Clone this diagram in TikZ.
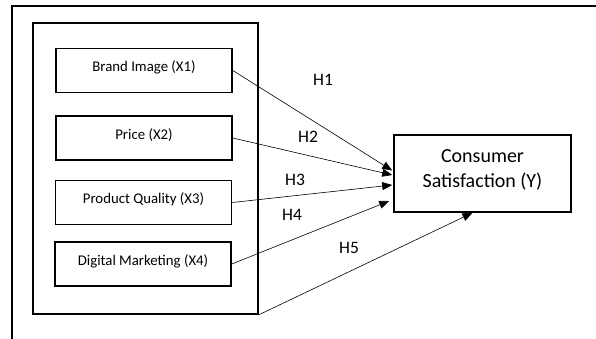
\documentclass[tikz,border=0pt]{standalone}
\usepackage{fontspec}
\setmainfont{Carlito}
\usepackage{tikz}
\usetikzlibrary{arrows.meta}
\usetikzlibrary{calc}
\tikzstyle{var_box}=[draw=black, line width=1.6pt, minimum width=176pt, minimum height=44pt, inner sep=0pt, text height=8pt, text depth=6pt, font=\fontsize{14.8}{16}\selectfont]
\tikzstyle{dep_box}=[draw=black, line width=1.6pt, minimum width=177pt, minimum height=77pt, inner sep=0pt, align=center, text depth=10pt, font=\fontsize{20}{25}\selectfont]
\tikzstyle{hyp}=[-{Triangle[length=10pt,width=8pt]}, line width=0.6pt]
\tikzstyle{hyp_label}=[inner sep=0pt, font=\fontsize{17.5}{18}\selectfont]

\begin{document}
\begin{tikzpicture}[x=1pt, y=-1pt]
          \useasboundingbox (0,0) rectangle (596,338);
          \draw[line width=2pt] (598,5.5) -- (11.5,5.5) -- (11.5,340);
          \node[draw=black, line width=1.6pt, minimum width=225pt, minimum height=291pt, inner sep=0pt] (grp) at (145.5,168.5){};
          \node[var_box] (x1) at (144,70.5){Brand Image (X1)};
          \node[var_box] (x2) at (144,138){Price (X2)};
          \node[var_box] (x3) at (143.5,202.5){Product Quality (X3)};
          \node[var_box] (x4) at (143,264){Digital Marketing (X4)};
          \node[dep_box] (y) at (482.5,173.5){Consumer\\Satisfaction (Y)};
          \draw[hyp](x1.east) -- ($(y.west)+(-1,-3)$);
          \draw[hyp](x2.east) -- ($(y.west)+(-1,1.5)$);
          \draw[hyp](x3.east) -- ($(y.west)+(-1,11.5)$);
          \draw[hyp](x4.east) -- ($(y.west)+(-4,27.5)$);
          \draw[hyp](grp.south east) -- ($(y.south)+(-10,0)$);
          \node[hyp_label] (h1) at (323,80){H1};
          \node[hyp_label] (h2) at (308,137){H2};
          \node[hyp_label] (h3) at (295,180){H3};
          \node[hyp_label] (h4) at (292,215){H4};
          \node[hyp_label] (h5) at (349,248){H5};
        \end{tikzpicture}
\end{document}
